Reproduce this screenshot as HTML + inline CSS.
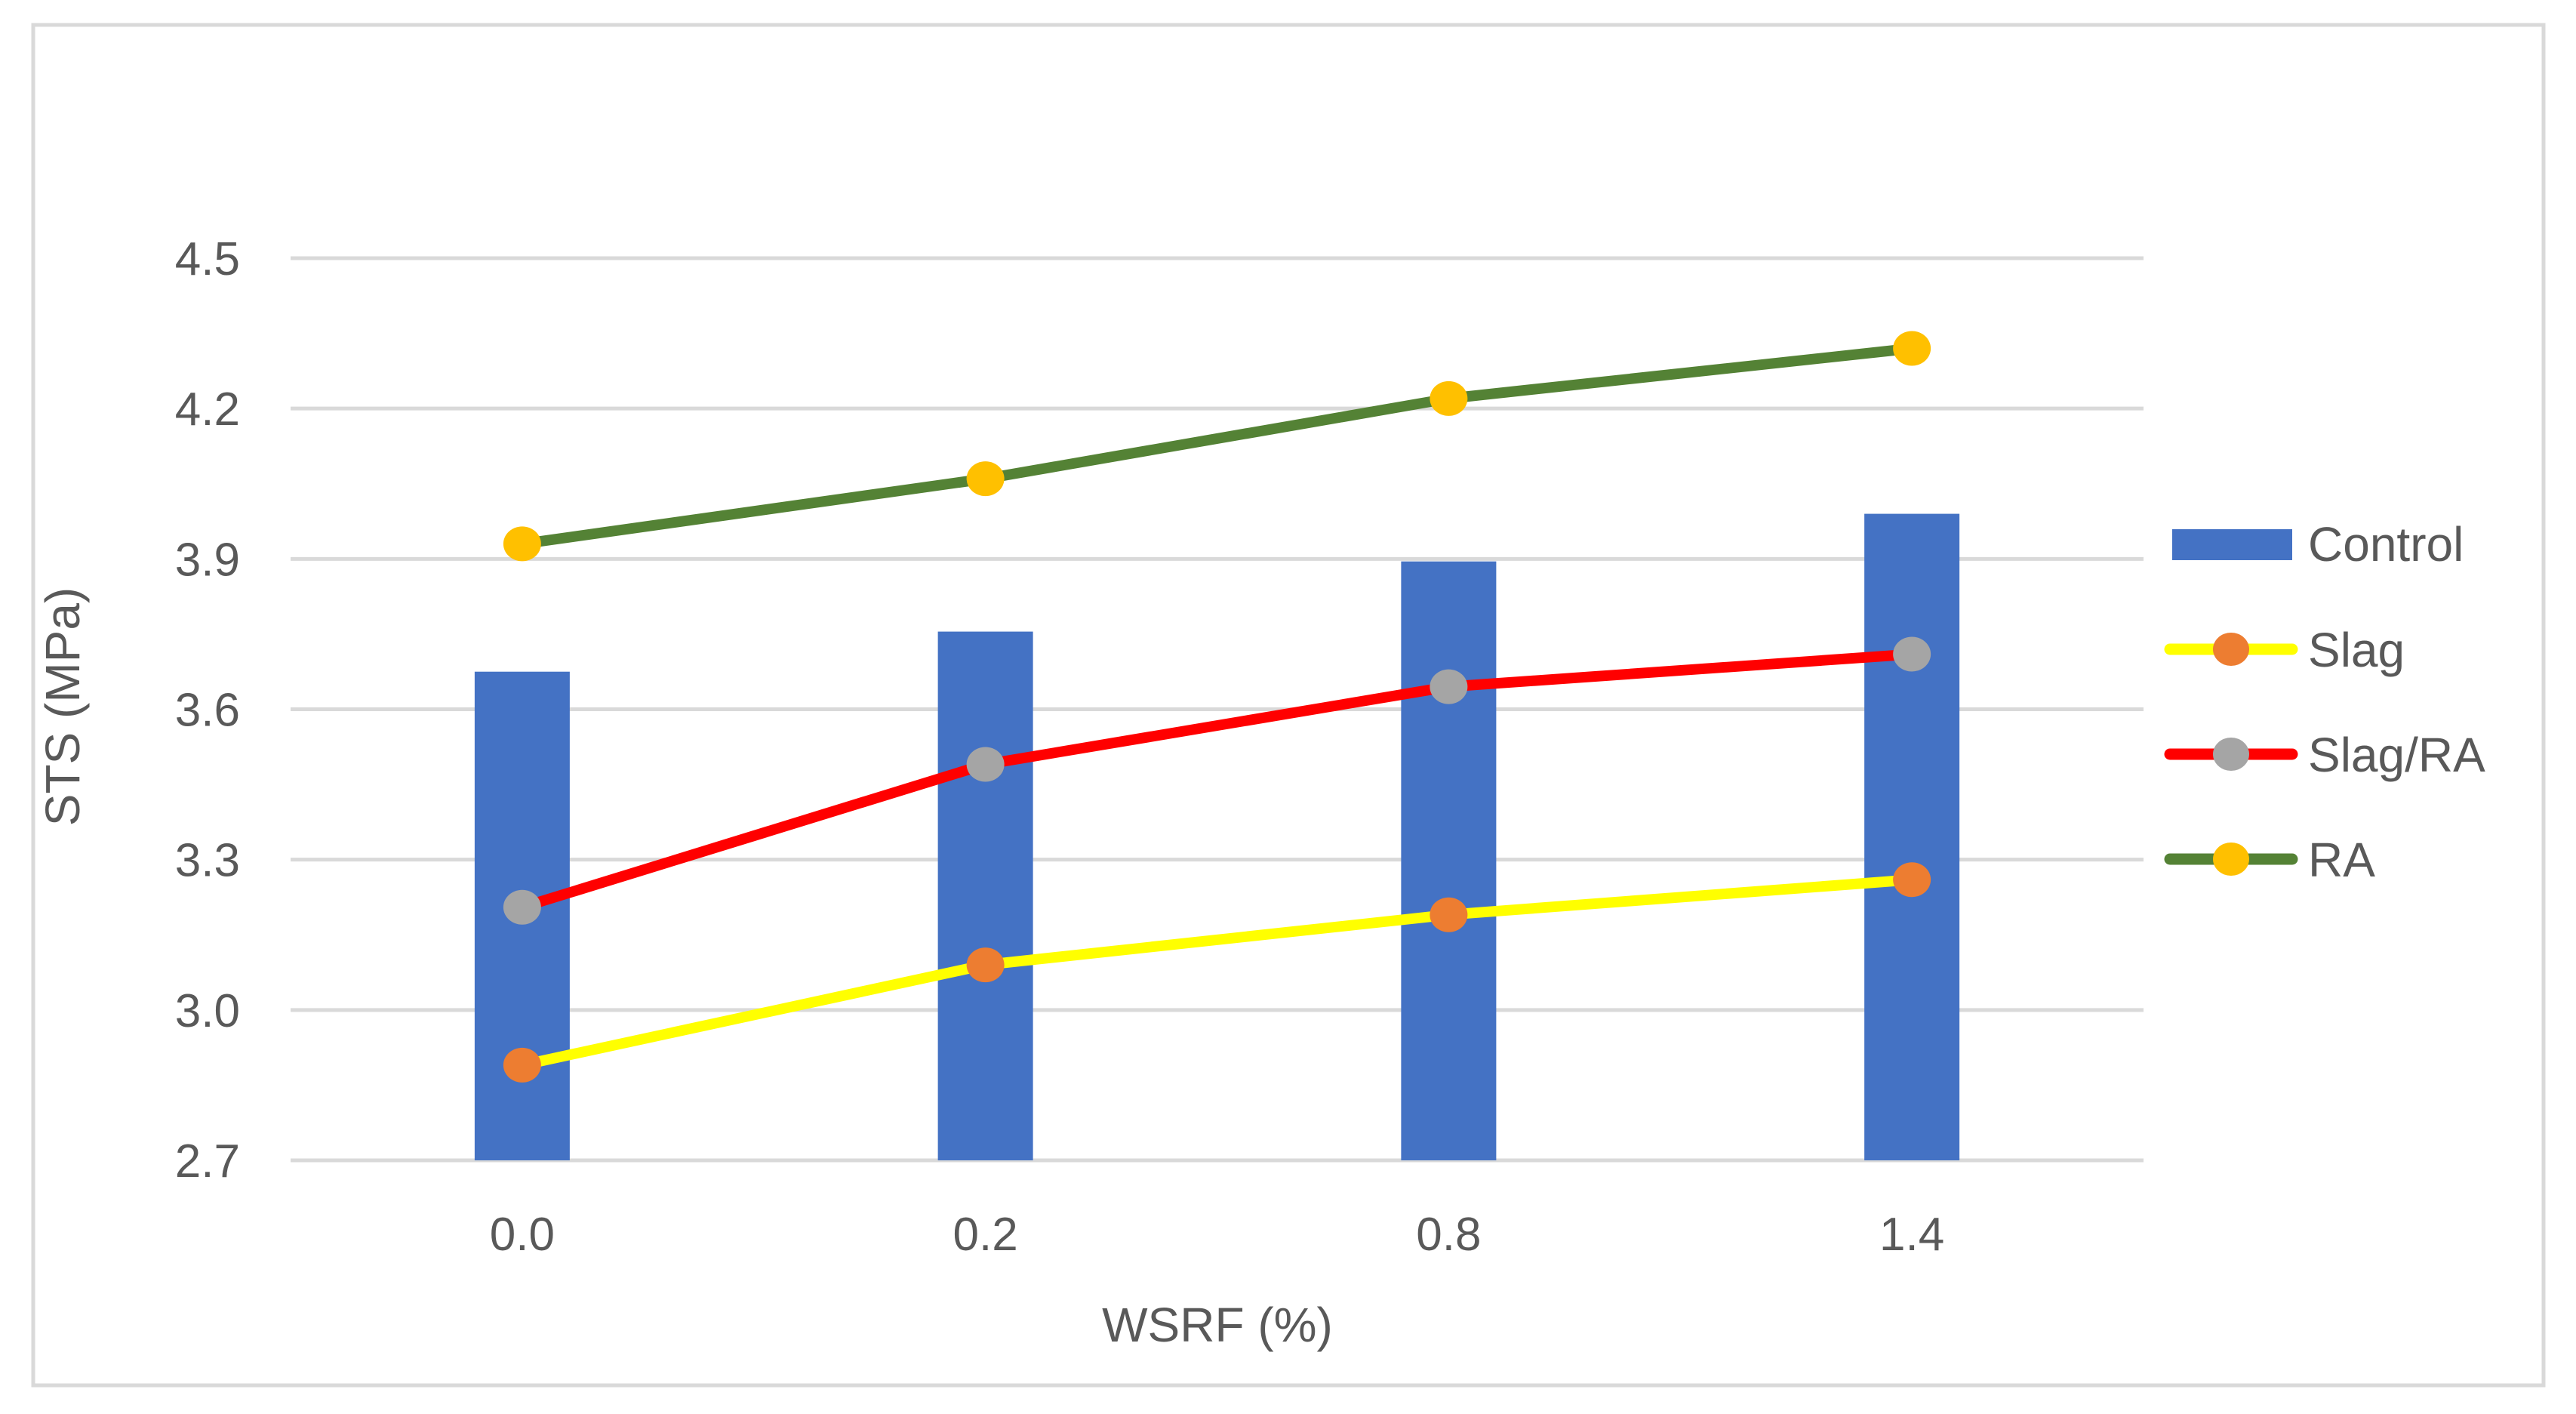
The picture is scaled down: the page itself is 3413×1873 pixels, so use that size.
<!DOCTYPE html>
<html><head><meta charset="utf-8"><style>
body{margin:0;background:#fff;}
svg text{font-family:"Liberation Sans",sans-serif;fill:#595959;}
</style></head><body>
<svg id="chart" width="3413" height="1868" xmlns="http://www.w3.org/2000/svg">
<rect x="44" y="33" width="3326" height="1802" fill="#fff" stroke="#d9d9d9" stroke-width="5"/>
<g id="grid"></g><g id="bars"></g><g id="lines"></g><g id="labels"></g>
<text x="1613" y="1777" font-size="64" text-anchor="middle">WSRF (%)</text>
<text transform="translate(105,936) rotate(-90)" font-size="64" text-anchor="middle">STS (MPa)</text>
<g id="legend"></g>
</svg>
<script>
const categories=["0.0","0.2","0.8","1.4"];
const controlVals=[3.675,3.755,3.895,3.99];
const slagVals=[2.89,3.09,3.19,3.26];
const slagRaVals=[3.205,3.49,3.645,3.71];
const raVals=[3.93,4.06,4.22,4.32];
const yTicks=[2.7,3.0,3.3,3.6,3.9,4.2,4.5];
const NS="http://www.w3.org/2000/svg";
const X0=385,X1=2840,Y0=1537,Y1=342,yMin=2.7,yMax=4.5;
const bw=(X1-X0)/categories.length;
function xs(i){return X0+bw*(i+0.5);}
function ys(v){return Y0-(v-yMin)/(yMax-yMin)*(Y0-Y1);}
function mk(tag,attrs,parent){const e=document.createElementNS(NS,tag);for(const k in attrs)e.setAttribute(k,attrs[k]);document.getElementById(parent).appendChild(e);return e;}
yTicks.forEach(t=>{
 const l=mk('line',{x1:X0,x2:X1,y1:ys(t),y2:ys(t),stroke:'#d9d9d9','stroke-width':5},'grid');
 
 
 const tx=mk('text',{x:318,y:ys(t)+22,'font-size':62,'text-anchor':'end'},'labels');
 tx.textContent=t.toFixed(1);
 
 
});
categories.forEach((c,i)=>{
 const b=mk('rect',{x:xs(i)-63,y:ys(controlVals[i]),width:126,height:Y0-ys(controlVals[i]),fill:'#4472c4'},'bars');
 
 
 const tx=mk('text',{x:xs(i),y:1656,'font-size':62,'text-anchor':'middle'},'labels');
 tx.textContent=c;
 
 
});
const series=[["slag",slagVals,"#ffff00","#ed7d31"],["slag-ra",slagRaVals,"#ff0000","#a5a5a5"],["ra",raVals,"#548235","#ffc000"]];
series.forEach(s=>{
 const pts=s[1].map((v,i)=>xs(i)+","+ys(v)).join(" ");
 const pl=mk('polyline',{points:pts,fill:'none',stroke:s[2],'stroke-width':14,'stroke-linejoin':'round'},'lines');
 
 
 s[1].forEach((v,i)=>{
  const c=mk('ellipse',{cx:xs(i),cy:ys(v),rx:25,ry:23,fill:s[3]},'lines');
  
  
 });
});
const lr=mk('rect',{x:2878,y:701,width:159,height:41,fill:'#4472c4'},'legend');


const legendNames=["Control","Slag","Slag/RA","RA"];
const rowY=[720,860,999,1138];
legendNames.forEach((n,k)=>{
 if(k>0){const s=series[k-1];
  const ln=mk('line',{x1:2875,x2:3037,y1:rowY[k],y2:rowY[k],stroke:s[2],'stroke-width':15,'stroke-linecap':'round'},'legend');
  
  
  const c=mk('ellipse',{cx:2956,cy:rowY[k],rx:24,ry:22,fill:s[3]},'legend');
  
  }
 const t=mk('text',{x:3058,y:rowY[k]+23,'font-size':64},'legend');
 t.textContent=n;
 
 
});
</script>
</body></html>
